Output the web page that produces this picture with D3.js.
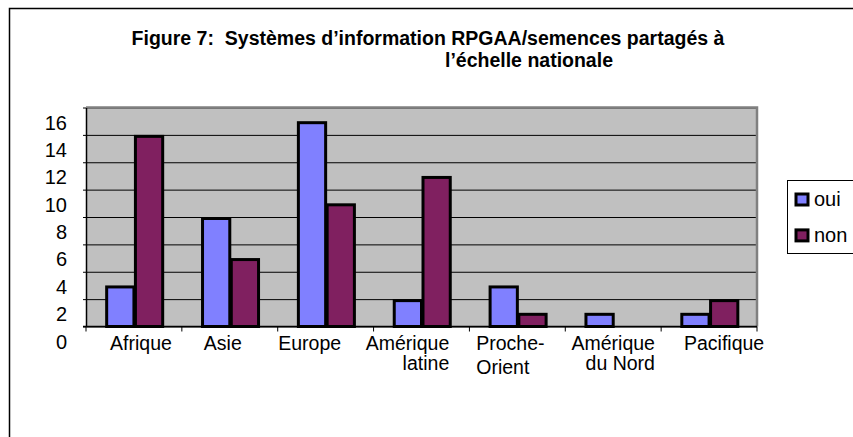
<!DOCTYPE html>
<html>
<head>
<meta charset="UTF-8">
<title>Figure 7</title>
<script src="https://cdn.jsdelivr.net/npm/d3@7"></script>
<style>
body { margin: 0; background: #fff; }
svg { font-family: "Liberation Sans", Arial, sans-serif; }
.title { font-size: 19.5px; font-weight: bold; white-space: pre; }
.lbl { font-size: 20px; }
.xl { font-size: 19.5px; }
.grid line { stroke: #000; stroke-width: 1; }
.grid path { display: none; }
</style>
</head>
<body>
<svg id="chart" width="853" height="437"></svg>
<script>
var categories = ["Afrique", "Asie", "Europe", "Amérique\nlatine", "Proche-\nOrient", "Amérique\ndu Nord", "Pacifique"];
var series = ["oui", "non"];
var oui = [3, 8, 15, 2, 3, 1, 1];
var non = [14, 5, 9, 11, 1, 0, 2];
var yTicks = [0, 2, 4, 6, 8, 10, 12, 14, 16];
var colors = ["#8080ff", "#802060"];
var titleLines = ["Figure 7:  Systèmes d\u2019information RPGAA/semences partagés à", "l\u2019échelle nationale"];
// mise en page des étiquettes (comme dans l'original)
var labelAlign = ["middle", "middle", "middle", "end", "start", "end", "middle"];
var labelShift = [7, -7, -16, -14, -7, 0, 15];

var svg = d3.select("#chart");
var width = +svg.attr("width"), height = +svg.attr("height");
var pLeft = 86, pRight = 757, pTop = 107.5, pBottom = 326.5;

// cadre du graphique
svg.append("rect")
    .attr("x", 9.5).attr("y", 8.5)
    .attr("width", width + 50).attr("height", height + 50)
    .attr("fill", "none").attr("stroke", "#000").attr("stroke-width", 1.5);

// titre
svg.append("text").attr("class", "title")
    .attr("x", 428).attr("y", 45).attr("text-anchor", "middle")
    .text(titleLines[0]);
svg.append("text").attr("class", "title")
    .attr("x", 529).attr("y", 67).attr("text-anchor", "middle")
    .text(titleLines[1]);

var x0 = d3.scaleBand().domain(categories).range([pLeft, pRight])
    .paddingInner(0.4).paddingOuter(0.2);
var x1 = d3.scaleBand().domain(series).range([0, x0.bandwidth()]);
var y = d3.scaleLinear().domain([0, 16]).range([pBottom, pTop]);
var color = d3.scaleOrdinal().domain(series).range(colors);

// fond de la zone de traçage
svg.append("rect")
    .attr("x", pLeft).attr("y", pTop)
    .attr("width", pRight - pLeft).attr("height", pBottom - pTop)
    .attr("fill", "#c0c0c0");

// quadrillage
svg.append("g").attr("class", "grid")
    .attr("transform", "translate(" + pLeft + ",0)")
    .call(d3.axisLeft(y).tickValues(yTicks).tickSize(-(pRight - pLeft)).tickFormat(""));

// bordure grise haut/droite
svg.append("path")
    .attr("d", "M" + pLeft + "," + pTop + "H" + pRight + "V" + pBottom)
    .attr("fill", "none").attr("stroke", "#808080").attr("stroke-width", 2.5);

// barres
var rows = categories.map(function(c, i) { return {cat: c, values: [oui[i], non[i]]}; });
var groups = svg.selectAll(".grp").data(rows).enter().append("g")
    .attr("class", "grp")
    .attr("transform", function(d) { return "translate(" + x0(d.cat) + ",0)"; });
groups.selectAll("rect")
    .data(function(d) { return series.map(function(s, j) { return {key: s, value: d.values[j]}; }).filter(function(e) { return e.value > 0; }); })
    .enter().append("rect")
    .attr("x", function(d) { return x1(d.key) + 1.5; })
    .attr("y", function(d) { return y(d.value) + 1.5; })
    .attr("width", x1.bandwidth() - 1.5)
    .attr("height", function(d) { return y(0) - y(d.value) - 1.5; })
    .attr("fill", function(d) { return color(d.key); })
    .attr("stroke", "#000").attr("stroke-width", 3);

// axe Y
var yAxis = svg.append("g")
    .attr("transform", "translate(" + pLeft + ",0)")
    .call(d3.axisLeft(y).tickValues(yTicks).tickSize(3).tickPadding(16).tickSizeOuter(0));
yAxis.select(".domain").attr("stroke", "#000").attr("stroke-width", 1.5);
yAxis.selectAll("line").attr("stroke", "#000");
yAxis.selectAll("text").attr("class", "lbl").attr("dy", "21.5px").attr("fill", "#000");

// axe X
var edges = d3.range(categories.length + 1).map(function(i) { return pLeft + i * x0.step(); });
svg.append("line")
    .attr("x1", pLeft - 3).attr("x2", pRight)
    .attr("y1", pBottom).attr("y2", pBottom)
    .attr("stroke", "#000").attr("stroke-width", 1.5);
svg.selectAll(".xtick").data(edges).enter().append("line")
    .attr("class", "xtick")
    .attr("x1", function(d) { return d; }).attr("x2", function(d) { return d; })
    .attr("y1", pBottom).attr("y2", pBottom + 5)
    .attr("stroke", "#000").attr("stroke-width", 1);

var xl = svg.selectAll(".xl").data(categories).enter().append("text")
    .attr("class", "xl")
    .attr("transform", function(d, i) { return "translate(" + (x0(d) + x0.bandwidth() / 2 + labelShift[i]) + ",350)"; });
xl.each(function(d, i) {
  var t = d3.select(this), lines = d.split("\n");
  var spans = t.selectAll("tspan").data(lines).enter().append("tspan")
      .attr("text-anchor", labelAlign[i])
      .attr("y", function(l, k) { return k * 20 + (labelAlign[i] === "start" ? k * 4 : 0); })
      .text(function(l) { return l; });
  var w = d3.max(spans.nodes(), function(n) { return n.getComputedTextLength(); });
  var xs = labelAlign[i] === "start" ? -w / 2 : labelAlign[i] === "end" ? w / 2 : 0;
  spans.attr("x", xs);
});

// légende
var lg = svg.append("g");
lg.append("rect")
    .attr("x", 787.5).attr("y", 180.5).attr("width", 66).attr("height", 73)
    .attr("fill", "#fff").attr("stroke", "#000").attr("stroke-width", 1);
var ly = d3.scaleBand().domain(series).range([182, 252]).paddingInner(0.05);
var items = lg.selectAll(".it").data(series).enter().append("g")
    .attr("class", "it")
    .attr("transform", function(d) { return "translate(796," + (ly(d) + 12) + ")"; });
items.append("rect")
    .attr("width", 12).attr("height", 11)
    .attr("fill", function(d) { return color(d); })
    .attr("stroke", "#000").attr("stroke-width", 3);
items.append("text")
    .attr("class", "lbl")
    .attr("x", 18).attr("y", 12)
    .text(function(d) { return d; });
</script>
</body>
</html>
